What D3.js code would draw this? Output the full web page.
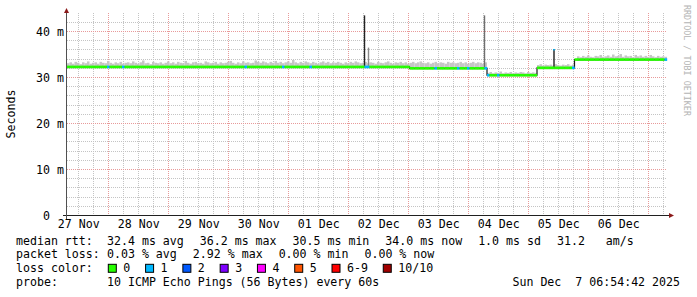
<!DOCTYPE html>
<html>
<head>
<meta charset="utf-8">
<script src="https://cdn.jsdelivr.net/npm/d3@7"></script>
<style>
  body { margin: 0; background: #fff; }
  svg text { font-family: "DejaVu Sans Mono", monospace; font-size: 11.6px; fill: #000; white-space: pre; }
</style>
</head>
<body>
<div id="chart"></div>
<script>
// 10 day smokeping graph, one bin per hour starting 27 Nov 07:30 UTC
const startTime = Date.UTC(2025, 10, 27, 7, 30);
const hourCount = 240;

const yTickValues = [0, 10, 20, 30, 40];
const yTickLabels = [' 0', '10 m', '20 m', '30 m', '40 m'];

// median rtt (ms) as steps: [start hour, value]
const medianSteps = [[0, 32.3], [137, 32.0], [168, 30.5], [188, 32.1], [203, 33.9]];

// top of the smoke (ms) for every hour
const smokeHigh = [
  33.1, 33.3, 33.0, 33.4, 33.2, 32.9, 33.3, 33.1, 33.5, 33.0, 33.2, 33.3,
  33.0, 33.4, 33.2, 33.1, 33.6, 33.2, 33.0, 33.3, 33.1, 33.4, 33.0, 33.2,
  33.3, 33.1, 33.5, 33.2, 33.0, 33.3, 33.7, 33.1, 33.2, 32.9, 33.4, 33.2,
  33.1, 33.3, 33.0, 33.2, 33.5, 33.1, 33.3, 33.0, 33.4, 33.2, 33.1, 33.6,
  33.2, 33.0, 33.3, 33.4, 33.1, 33.2, 33.0, 33.5, 33.3, 33.1, 33.2, 33.4,
  33.0, 33.3, 33.1, 33.2, 33.4, 33.6, 33.2, 33.0, 33.3, 33.1, 33.5, 33.2,
  33.3, 33.1, 33.2, 33.7, 33.4, 33.2, 33.5, 33.3, 33.1, 33.4, 33.2, 33.6,
  33.2, 33.4, 33.1, 33.3, 33.5, 33.2, 33.8, 33.3, 33.1, 33.4, 33.2, 33.5,
  33.3, 33.1, 33.4, 33.2, 33.0, 33.3, 33.5, 33.2, 33.4, 33.1, 33.3, 33.2,
  33.4, 33.2, 33.0, 33.3, 33.1, 33.4, 33.2, 33.5, 33.3, 33.1, 33.2, 33.4,
  33.1, 33.3, 33.2, 33.0, 33.4, 33.2, 33.1, 33.3, 33.5, 33.2, 33.0, 33.3,
  33.2, 33.4, 33.1, 33.3, 33.0, 33.2, 33.4, 33.1, 33.3, 33.5, 33.2, 33.1,
  33.3, 33.0, 33.2, 33.4, 33.1, 33.3, 33.2, 33.0, 33.4, 33.2, 33.3, 33.1,
  33.2, 33.4, 33.1, 33.3, 33.0, 33.2, 33.4, 33.1, 33.3, 33.2, 33.0, 33.3,
  31.0, 31.2, 30.9, 31.1, 31.0, 31.3, 30.9, 31.1, 31.0, 31.2, 30.9, 31.1,
  31.0, 31.2, 31.1, 30.9, 31.2, 31.0, 31.1, 31.0, 32.7, 32.9, 32.6, 32.8,
  32.7, 32.8, 32.6, 32.9, 32.7, 32.6, 32.8, 32.7, 32.9, 32.6, 32.8, 32.7,
  34.6, 34.4, 34.7, 34.5, 34.8, 34.5, 34.4, 34.7, 34.6, 34.9, 34.5, 34.6,
  34.8, 34.5, 35.0, 34.6, 34.7, 35.1, 34.5, 34.8, 34.6, 34.7, 34.4, 34.9,
  34.6, 34.8, 34.5, 34.7, 34.5, 34.9, 34.6, 34.4, 34.7, 34.5, 34.6, 34.5
];

// hours with lost pings: [hour, lost count]
const lossEvents = [[16, 1], [22, 1], [71, 1], [86, 1], [97, 1], [119, 1], [120, 1], [147, 1],
  [156, 1], [160, 1], [167, 1], [168, 1], [172, 1], [202, 1], [239, 1]];

// single bins with a high rtt: [hour, top ms, shade, lost count]
const spikes = [[119, 43.5, '#222222', 0], [120.6, 36.5, '#8a8a8a', 0],
  [167, 43.5, '#6e6e6e', 0], [194.8, 36.2, '#1e1e1e', 1]];

const lossColors = ['#26ff00', '#00b8ff', '#0059ff', '#7e00ff', '#ff00ff', '#ff5500', '#ff0000', '#a10000'];
const lossLabels = ['0', '1', '2', '3', '4', '5', '6-9', '10/10'];

const rttStats = ['32.4 ms avg', '36.2 ms max', '30.5 ms min', '34.0 ms now', '1.0 ms sd', '31.2   am/s'];
const lossStats = ['0.03 % avg', '2.92 % max', '0.00 % min', '0.00 % now'];
const probeText = '10 ICMP Echo Pings (56 Bytes) every 60s';
const stampText = 'Sun Dec  7 06:54:42 2025';

const width = 697, height = 297;
const hourDate = h => new Date(startTime + h * 3600e3);

const svg = d3.select('#chart').append('svg')
    .attr('width', width)
    .attr('height', height)
    .style('display', 'block')
    .style('background', '#fff');

const x = d3.scaleUtc().domain([hourDate(0), hourDate(hourCount)]).range([67, 667]);
const y = d3.scaleLinear().domain([0, 44]).range([215.5, 13.1]);
const px = v => Math.round(v) + 0.5;

function medianAt (h) {
    let v = medianSteps[0][1];
    medianSteps.forEach(s => { if (h >= s[0]) v = s[1]; });
    return v;
}
function lossIndex (n) {
    if (n >= 10) return 7;
    if (n >= 6) return 6;
    return n;
}

// grid
const gridGroup = svg.append('g').attr('shape-rendering', 'crispEdges');
const days = d3.utcDay.range(hourDate(0), hourDate(hourCount));
const sixHours = d3.utcHour.every(6).range(hourDate(0), hourDate(hourCount))
    .filter(d => d.getUTCHours() !== 0);
const minorY = d3.range(2, 44, 2).filter(v => v % 10 !== 0);

gridGroup.selectAll('.vminor').data(sixHours).join('line')
    .attr('x1', d => px(x(d))).attr('x2', d => px(x(d)))
    .attr('y1', 13).attr('y2', 215)
    .attr('stroke', '#c4c4c4').attr('stroke-dasharray', '1,1');
gridGroup.selectAll('.hminor').data(minorY).join('line')
    .attr('x1', 67).attr('x2', 667)
    .attr('y1', d => Math.floor(y(d)) + 0.5).attr('y2', d => Math.floor(y(d)) + 0.5)
    .attr('stroke', '#c4c4c4').attr('stroke-dasharray', '1,1');
gridGroup.selectAll('.vmajor').data(days).join('line')
    .attr('x1', d => px(x(d))).attr('x2', d => px(x(d)))
    .attr('y1', 13).attr('y2', 215)
    .attr('stroke', '#e89a9a').attr('stroke-dasharray', '1,1');
gridGroup.selectAll('.hmajor').data(yTickValues.filter(v => v > 0)).join('line')
    .attr('x1', 67).attr('x2', 667)
    .attr('y1', d => Math.floor(y(d)) + 0.5).attr('y2', d => Math.floor(y(d)) + 0.5)
    .attr('stroke', '#e89a9a').attr('stroke-dasharray', '1,1');

// smoke
const hoursIdx = d3.range(hourCount);
const body = svg.append('g');
body.selectAll('.smoke').data(hoursIdx).join('rect')
    .attr('x', h => x(hourDate(h)))
    .attr('width', h => x(hourDate(h + 1)) - x(hourDate(h)))
    .attr('y', h => y(smokeHigh[h]))
    .attr('height', h => y(medianAt(h) - 0.3) - y(smokeHigh[h]))
    .attr('fill', '#c6c6c6');

// median step line (dark connectors)
const stepPoints = medianSteps.concat([[hourCount, medianSteps[medianSteps.length - 1][1]]]);
body.append('path')
    .datum(stepPoints)
    .attr('fill', 'none')
    .attr('stroke', '#1a1a1a')
    .attr('stroke-width', 1.2)
    .attr('d', d3.line().curve(d3.curveStepAfter).x(d => x(hourDate(d[0]))).y(d => y(d[1])));

// spikes
body.selectAll('.spike').data(spikes).join('line')
    .attr('x1', d => x(hourDate(d[0]))).attr('x2', d => x(hourDate(d[0])))
    .attr('y1', d => y(medianAt(d[0]))).attr('y2', d => y(d[1]))
    .attr('stroke', d => d[2]).attr('stroke-width', 1.4);
body.selectAll('.spikecap').data(spikes.filter(d => d[3] > 0)).join('rect')
    .attr('x', d => x(hourDate(d[0])) - 0.8).attr('width', 1.6)
    .attr('y', d => y(d[1])).attr('height', 1.5)
    .attr('fill', d => lossColors[lossIndex(d[3])]);

// median coloured by loss
const lossByHour = new Map(lossEvents.map(e => [e[0], e[1]]));
body.selectAll('.median').data(hoursIdx).join('rect')
    .attr('x', h => x(hourDate(h)))
    .attr('width', h => x(hourDate(h + 1)) - x(hourDate(h)) + 0.2)
    .attr('y', h => y(medianAt(h)) - 1.3)
    .attr('height', 2.6)
    .attr('fill', h => lossColors[lossIndex(lossByHour.get(h) || 0)]);

// axes
const axisGroup = svg.append('g').attr('shape-rendering', 'crispEdges');
axisGroup.append('line').attr('x1', 63).attr('x2', 670).attr('y1', 215.5).attr('y2', 215.5)
    .attr('stroke', '#202020');
axisGroup.append('line').attr('x1', 66.5).attr('x2', 66.5).attr('y1', 219).attr('y2', 12)
    .attr('stroke', '#505050');
svg.append('path').attr('d', 'M64,13 L66.5,8 L69,13 Z').attr('fill', '#8b1a1a');
svg.append('path').attr('d', 'M669,213 L674,215.5 L669,218 Z').attr('fill', '#8b1a1a');

const noons = days.concat([d3.utcDay.floor(hourDate(0))])
    .map(d => d3.utcHour.offset(d, 12))
    .filter(d => d >= hourDate(0) && d <= hourDate(hourCount));

const xAxis = d3.axisBottom(x).tickValues(noons).tickSize(0).tickPadding(5)
    .tickFormat(d3.utcFormat('%d %b'));
const xAxisGroup = svg.append('g').attr('transform', 'translate(0,215)').call(xAxis);
xAxisGroup.select('.domain').remove();
xAxisGroup.selectAll('text').attr('font-family', null).attr('font-size', null);

const yAxis = d3.axisLeft(y).tickValues(yTickValues).tickSize(0)
    .tickFormat((d, i) => yTickLabels[i]);
const yAxisGroup = svg.append('g').attr('transform', 'translate(67,0)').call(yAxis);
yAxisGroup.select('.domain').remove();
yAxisGroup.selectAll('text')
    .attr('font-family', null).attr('font-size', null)
    .attr('text-anchor', 'start').attr('x', -31)
    .attr('xml:space', 'preserve');

svg.append('text')
    .attr('transform', 'translate(11,114) rotate(-90)')
    .attr('text-anchor', 'middle')
    .attr('dy', '0.35em')
    .text('Seconds');

svg.append('text')
    .attr('transform', 'translate(684,5) rotate(90)')
    .style('font-size', '8.4px')
    .style('fill', '#b4b4b4')
    .text('RRDTOOL / TOBI OETIKER');

// legend
const legend = svg.append('g');
function statRow (label, items, baseline) {
    legend.append('text').attr('x', 16).attr('y', baseline).text(label);
    let cx = 107;
    items.forEach(s => {
        const t = legend.append('text').attr('x', cx).attr('y', baseline).text(s);
        cx += t.node().getComputedTextLength() + 16;
    });
}
statRow('median rtt:', rttStats, 244.5);
statRow('packet loss:', lossStats, 258.3);

legend.append('text').attr('x', 16).attr('y', 272.2).text('loss color:');
let bx = 108.3;
lossLabels.forEach((lab, i) => {
    legend.append('rect')
        .attr('x', bx).attr('y', 264.3).attr('width', 8).attr('height', 8)
        .attr('fill', lossColors[i]).attr('stroke', '#000').attr('stroke-width', 1);
    const t = legend.append('text').attr('x', bx + 15).attr('y', 272.2).text(lab);
    bx += 15 + t.node().getComputedTextLength() + 15.3;
});

legend.append('text').attr('x', 16).attr('y', 286).text('probe:');
legend.append('text').attr('x', 107).attr('y', 286).text(probeText);
legend.append('text').attr('x', 680).attr('y', 286).attr('text-anchor', 'end').text(stampText);
</script>
</body>
</html>
